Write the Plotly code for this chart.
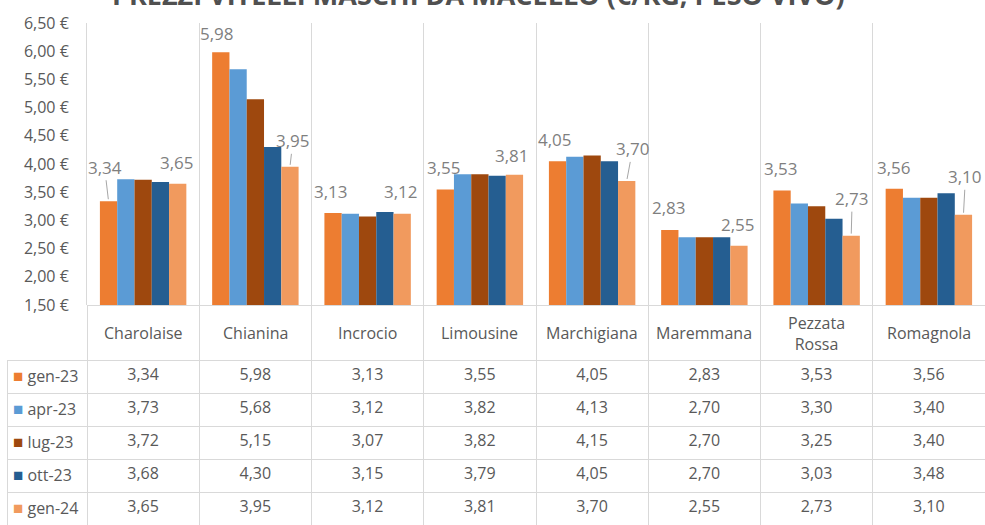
import plotly.graph_objects as go

# Breeds (categories) and survey periods (series)
breeds = ["Charolaise", "Chianina", "Incrocio", "Limousine", "Marchigiana",
          "Maremmana", "Pezzata<br>Rossa", "Romagnola"]
periods = ["gen-23", "apr-23", "lug-23", "ott-23", "gen-24"]

gen23 = [3.34, 5.98, 3.13, 3.55, 4.05, 2.83, 3.53, 3.56]
apr23 = [3.73, 5.68, 3.12, 3.82, 4.13, 2.70, 3.30, 3.40]
lug23 = [3.72, 5.15, 3.07, 3.82, 4.15, 2.70, 3.25, 3.40]
ott23 = [3.68, 4.30, 3.15, 3.79, 4.05, 2.70, 3.03, 3.48]
gen24 = [3.65, 3.95, 3.12, 3.81, 3.70, 2.55, 2.73, 3.10]
series = [gen23, apr23, lug23, ott23, gen24]

colors = ["#ED7D31", "#5B9BD5", "#9E480E", "#255E91", "#F19A5E"]

# Pixel offsets of the value labels (first and last period) and leader flags
first_label_pos = [(-4, -34, True), (-4, -19, False), (-2, -22, False), (-1, -22, False),
                   (-3, -22, False), (-1, -22, False), (-1, -22, False), (0, -21, False)]
last_label_pos = [(-1, -21, False), (3, -26, True), (-1, -22, False), (-2, -19, False),
                  (6, -32, True), (-1, -21, False), (1, -37, True), (2, -38, True)]

W, H = 985, 525
FONT = "Open Sans"
GRID = "#d9d9d9"
TXT = "#595959"
LBL = "#7f7f7f"
BARGAP = 0.23

# Page layout in pixels
PLOT_LEFT, PLOT_TOP, PLOT_BOTTOM = 87, 23, 305
TABLE_LEFT = 7
HEADER_H, ROW_H = 55, 33


def fmt(v):
    return f"{v:.2f}".replace(".", ",")


def py(px):
    """Pixel row (from top) to paper coordinate."""
    return (H - px) / H


fig = go.Figure()
x_idx = list(range(len(breeds)))
for name, vals, col in zip(periods, series, colors):
    fig.add_trace(go.Bar(x=x_idx, y=vals, name=name,
                         marker=dict(color=col, line=dict(width=0)),
                         showlegend=False, hoverinfo="skip"))

# Data table under the chart
cell_vals = [[""] * len(periods)]
for i in range(len(breeds)):
    cell_vals.append([fmt(s[i]) for s in series])

fig.add_trace(go.Table(
    domain=dict(x=[TABLE_LEFT / W, 1], y=[0, py(PLOT_BOTTOM)]),
    columnwidth=[PLOT_LEFT - TABLE_LEFT] + [(W - PLOT_LEFT) / len(breeds)] * len(breeds),
    header=dict(values=[""] * (len(breeds) + 1), height=HEADER_H,
                fill_color=["rgba(0,0,0,0)"] + ["white"] * len(breeds),
                line=dict(color=["rgba(0,0,0,0)"] + [GRID] * len(breeds), width=1)),
    cells=dict(values=cell_vals, height=ROW_H, fill_color="white",
               align=["left"] + ["center"] * len(breeds),
               font=dict(family=FONT, size=16, color=TXT),
               line=dict(color=GRID, width=1)),
))

annotations = []
# Category names in the table header row
for i, b in enumerate(breeds):
    annotations.append(dict(x=i, y=py(PLOT_BOTTOM + HEADER_H / 2 + 1), xref="x", yref="paper",
                            text=b, showarrow=False, yanchor="middle",
                            font=dict(family=FONT, size=16, color=TXT)))

# Series keys in the first table column
for r, (p, c) in enumerate(zip(periods, colors)):
    annotations.append(dict(
        x=(TABLE_LEFT + 4) / W, y=py(PLOT_BOTTOM + HEADER_H + ROW_H * r + ROW_H / 2 - 1),
        xref="paper", yref="paper", xanchor="left", yanchor="middle", showarrow=False,
        text=f'<span style="color:{c};font-size:17px">■</span> {p}',
        font=dict(family=FONT, size=16, color=TXT)))

# Value labels for the first and last periods
w = (1 - BARGAP) / len(periods)
for k, positions in ((0, first_label_pos), (4, last_label_pos)):
    vals = series[k]
    for i, (dx, dy, leader) in enumerate(positions):
        annotations.append(dict(
            x=i + (k - 2) * w, y=vals[i], xref="x", yref="y", text=fmt(vals[i]),
            showarrow=True, arrowhead=0, arrowwidth=1, standoff=2,
            arrowcolor="#a6a6a6" if leader else "rgba(0,0,0,0)",
            ax=dx, ay=dy, font=dict(family=FONT, size=17, color=LBL)))

# Title (runs off the top edge of the page)
annotations.append(dict(x=478 / W, y=1, xref="paper", yref="paper",
                        yanchor="bottom", yshift=-15, showarrow=False,
                        text="PREZZI VITELLI MASCHI DA MACELLO (€/KG, PESO VIVO)",
                        font=dict(family=FONT, size=27, color="#505050", weight="bold")))

fig.update_layout(
    width=W, height=H,
    margin=dict(l=0, r=0, t=0, b=0, autoexpand=False),
    paper_bgcolor="white", plot_bgcolor="white",
    barmode="group", bargap=BARGAP, bargroupgap=0,
    separators=",.",
    font=dict(family=FONT, color=TXT),
    annotations=annotations,
    xaxis=dict(domain=[PLOT_LEFT / W, 1], range=[-0.5, len(breeds) - 0.5],
               tickmode="array", tickvals=[i - 0.5 for i in range(len(breeds) + 1)],
               showticklabels=False, ticks="", showgrid=True, gridcolor=GRID,
               gridwidth=1, zeroline=False, showline=False, fixedrange=True,
               automargin=False),
    yaxis=dict(domain=[py(PLOT_BOTTOM), py(PLOT_TOP)], range=[1.5, 6.5],
               tickmode="linear", tick0=1.5, dtick=0.5,
               tickformat=".2f", ticksuffix=" €", showgrid=False, zeroline=False,
               showline=True, linecolor=GRID, linewidth=1,
               ticks="outside", ticklen=14, tickcolor="rgba(0,0,0,0)",
               tickfont=dict(family=FONT, size=16, color=TXT), fixedrange=True,
               automargin=False),
)

fig.write_html("out.html")
